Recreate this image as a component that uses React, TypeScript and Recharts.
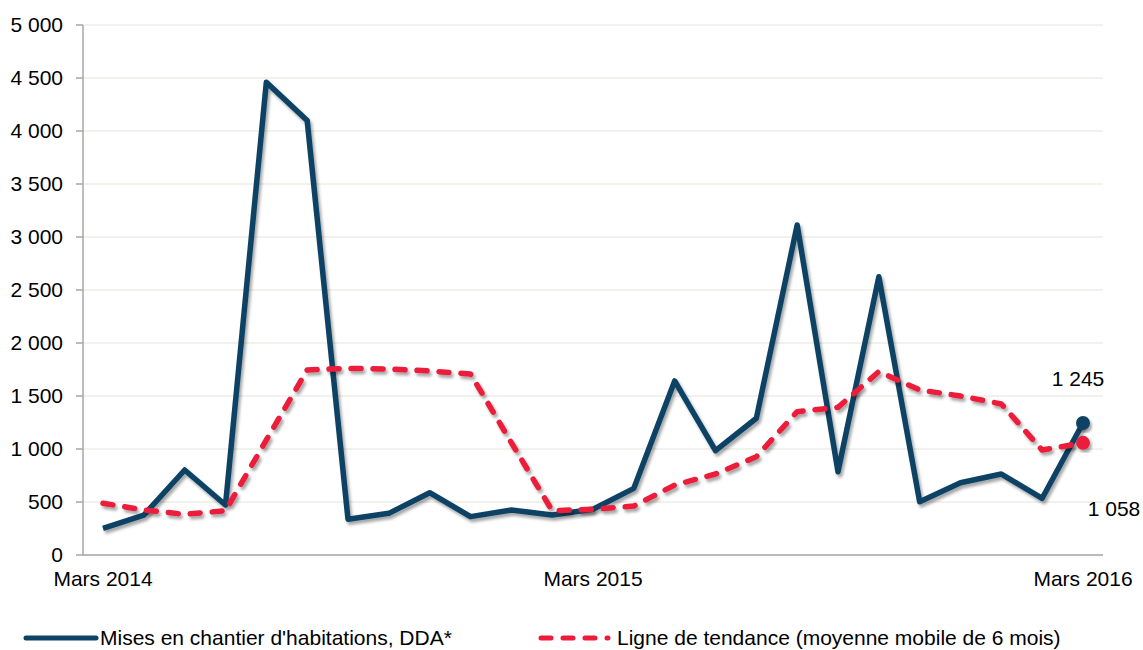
import { LineChart, Line, XAxis, YAxis, CartesianGrid, Legend, LabelList } from 'recharts'

const months = [
  'Mars 2014', 'Avr 2014', 'Mai 2014', 'Juin 2014', 'Juil 2014', 'Août 2014', 'Sept 2014',
  'Oct 2014', 'Nov 2014', 'Déc 2014', 'Janv 2015', 'Févr 2015', 'Mars 2015', 'Avr 2015',
  'Mai 2015', 'Juin 2015', 'Juil 2015', 'Août 2015', 'Sept 2015', 'Oct 2015', 'Nov 2015',
  'Déc 2015', 'Janv 2016', 'Févr 2016', 'Mars 2016',
]

// mises en chantier mensuelles
const starts = [
  252, 377, 802, 472, 4460, 4100, 337, 393, 588, 362, 425, 377, 431,
  629, 1642, 984, 1290, 3113, 786, 2625, 503, 682, 764, 535, 1245,
]

// moyenne mobile 6 mois
const trend = [
  488, 425, 384, 418, 1085, 1745, 1761, 1755, 1736, 1708, 1060, 418, 431,
  462, 660, 764, 927, 1352, 1393, 1730, 1557, 1500, 1425, 990, 1058,
]

const yTicks = [0, 500, 1000, 1500, 2000, 2500, 3000, 3500, 4000, 4500, 5000]

const DARK = '#0b4365'
const RED = '#ec1c3a'
const FONT = '"Liberation Sans", Arial, sans-serif'
const LAST = months.length - 1
const DASH = '10 12'

const chartData = months.map((m, i) => ({ month: m, starts: starts[i], trend: trend[i] }))

const fmt = (n: number) => String(Math.round(n)).replace(/\B(?=(\d{3})+(?!\d))/g, ' ')

function endDot(color: string) {
  return (props: any) => {
    if (props.index !== LAST) return <g key={`d-${props.index}`} />
    return <circle key={`d-${props.index}`} cx={props.cx} cy={props.cy} r={7} fill={color} filter="url(#shadow)" />
  }
}

function endLabel(dx: number, dy: number) {
  return (props: any) => {
    if (props.index !== LAST) return null
    return (
      <text x={Number(props.x) + dx} y={Number(props.y) + dy} dy="0.355em" textAnchor="middle"
        fontSize={21} fontFamily={FONT} fill="#000">
        {fmt(Number(props.value))}
      </text>
    )
  }
}

function LegendContent() {
  return (
    <div style={{ position: 'relative', height: 24, fontFamily: FONT, fontSize: 21, color: '#000' }}>
      <svg style={{ position: 'absolute', left: 22, top: 6 }} width={80} height={12}>
        <line x1={4} y1={6} x2={74} y2={6} stroke={DARK} strokeWidth={5} strokeLinecap="round" />
      </svg>
      <span style={{ position: 'absolute', left: 100, top: 0, lineHeight: '24px', whiteSpace: 'nowrap' }}>
        Mises en chantier d'habitations, DDA*
      </span>
      <svg style={{ position: 'absolute', left: 536, top: 6 }} width={80} height={12}>
        <line x1={5} y1={6} x2={72} y2={6} stroke={RED} strokeWidth={5} strokeLinecap="round" strokeDasharray={DASH} />
      </svg>
      <span style={{ position: 'absolute', left: 617, top: 0, lineHeight: '24px', whiteSpace: 'nowrap' }}>
        Ligne de tendance (moyenne mobile de 6 mois)
      </span>
    </div>
  )
}

export default function App() {
  return (
    <div style={{ width: 1143, height: 650, background: '#fff', position: 'relative' }}>
      <style>{'body{margin:0;overflow:hidden} .recharts-line-curve{filter:url(#shadow)}'}</style>
      <svg width={0} height={0} style={{ position: 'absolute' }}>
        <defs>
          <filter id="shadow" x="-10%" y="-10%" width="130%" height="130%">
            <feDropShadow dx={2} dy={3} stdDeviation={1.8} floodColor="#000" floodOpacity={0.35} />
          </filter>
        </defs>
      </svg>
      <LineChart width={1143} height={650} data={chartData} margin={{ top: 25, right: 40, left: 8, bottom: 0 }}>
        <CartesianGrid vertical={false} stroke="#efede4" strokeWidth={1.5} />
        <XAxis
          dataKey="month"
          interval={11}
          height={71}
          padding={{ left: 20, right: 20 }}
          tickLine={false}
          tickSize={6}
          tickMargin={10}
          axisLine={{ stroke: '#a6a6a6', strokeWidth: 1.5 }}
          tick={{ fontSize: 21, fontFamily: FONT, fill: '#000' }}
        />
        <YAxis
          domain={[0, 5000]}
          ticks={yTicks}
          width={75}
          tickSize={7}
          tickMargin={13}
          tickFormatter={fmt}
          axisLine={{ stroke: '#a6a6a6', strokeWidth: 1.5 }}
          tickLine={{ stroke: '#a6a6a6', strokeWidth: 1.5 }}
          tick={{ fontSize: 21, fontFamily: FONT, fill: '#000' }}
        />
        <Legend
          verticalAlign="bottom"
          height={24}
          content={<LegendContent />}
          wrapperStyle={{ left: 0, width: 1143, top: 626 }}
        />
        <Line
          type="linear"
          dataKey="starts"
          stroke={DARK}
          strokeWidth={5.5}
          strokeLinejoin="round"
          dot={endDot(DARK)}
          activeDot={false}
          isAnimationActive={false}
        >
          <LabelList dataKey="starts" content={endLabel(-5, -44)} />
        </Line>
        <Line
          type="linear"
          dataKey="trend"
          stroke={RED}
          strokeWidth={5.5}
          strokeDasharray={DASH}
          strokeLinecap="round"
          strokeLinejoin="round"
          dot={endDot(RED)}
          activeDot={false}
          isAnimationActive={false}
        >
          <LabelList dataKey="trend" content={endLabel(31, 66)} />
        </Line>
      </LineChart>
    </div>
  )
}
